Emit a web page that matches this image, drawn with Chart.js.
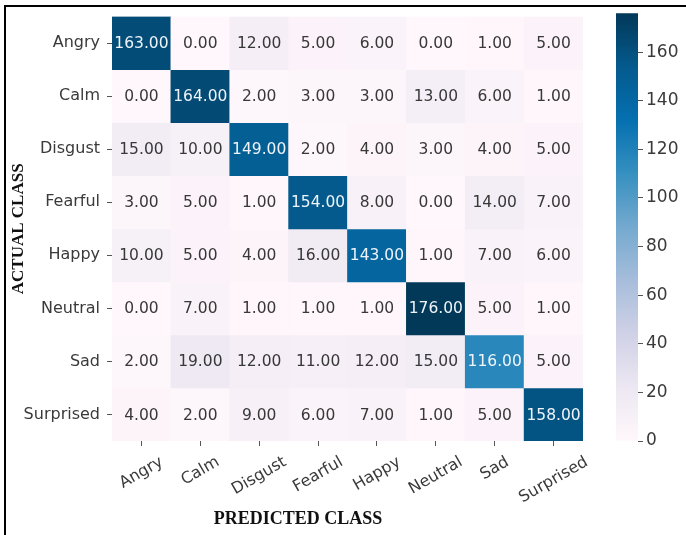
<!DOCTYPE html>
<html>
<head>
<meta charset="utf-8">
<script src="https://cdn.jsdelivr.net/npm/chart.js@4/dist/chart.umd.min.js"></script>
<style>
  html, body { margin: 0; padding: 0; background: #ffffff; }
  #wrap { position: relative; width: 686px; height: 535px; overflow: hidden; background: #ffffff; }
  #frame { position: absolute; left: 4px; top: 5px; right: -10px; bottom: -10px;
           border-top: 2px solid #000; border-left: 2px solid #000; pointer-events: none; }
  #heat { position: absolute; left: 0; top: 0; }
  #cbar { position: absolute; left: 600px; top: 0; }
</style>
</head>
<body>
<div id="wrap">
  <canvas id="heat" width="686" height="535"></canvas>
  <canvas id="cbar" width="86" height="535"></canvas>
  <div id="frame"></div>
</div>
<script>
// Emotion classes (rows = actual, columns = predicted)
const classes = ['Angry', 'Calm', 'Disgust', 'Fearful', 'Happy', 'Neutral', 'Sad', 'Surprised'];

// Confusion-matrix rows, one per actual class
const angryRow     = [163,   0,  12,   5,   6,   0,   1,   5];
const calmRow      = [  0, 164,   2,   3,   3,  13,   6,   1];
const disgustRow   = [ 15,  10, 149,   2,   4,   3,   4,   5];
const fearfulRow   = [  3,   5,   1, 154,   8,   0,  14,   7];
const happyRow     = [ 10,   5,   4,  16, 143,   1,   7,   6];
const neutralRow   = [  0,   7,   1,   1,   1, 176,   5,   1];
const sadRow       = [  2,  19,  12,  11,  12,  15, 116,   5];
const surprisedRow = [  4,   2,   9,   6,   7,   1,   5, 158];

// Colour-bar tick values
const colorbarTicks = [0, 20, 40, 60, 80, 100, 120, 140, 160];

const rows = [angryRow, calmRow, disgustRow, fearfulRow, happyRow, neutralRow, sadRow, surprisedRow];
const vmin = 0;
const vmax = Math.max(...rows.flat());

// PuBu colour map stops
const pubu = [
  [255, 247, 251], [236, 231, 242], [208, 209, 230], [166, 189, 219],
  [116, 169, 207], [54, 144, 192], [5, 112, 176], [4, 90, 141], [2, 56, 88]
];
function cmapRGB(v) {
  const t = Math.min(1, Math.max(0, (v - vmin) / (vmax - vmin)));
  const s = t * (pubu.length - 1);
  const i = Math.min(pubu.length - 2, Math.floor(s));
  const f = s - i;
  return pubu[i].map((c, k) => c + (pubu[i + 1][k] - c) * f);
}
function cmap(v) {
  const [r, g, b] = cmapRGB(v).map(Math.round);
  return `rgb(${r},${g},${b})`;
}
function luminance(v) {
  const lin = cmapRGB(v).map(c => {
    c /= 255;
    return c <= 0.03928 ? c / 12.92 : Math.pow((c + 0.055) / 1.055, 2.4);
  });
  return 0.2126 * lin[0] + 0.7152 * lin[1] + 0.0722 * lin[2];
}

const tickFont = { family: '"DejaVu Sans", sans-serif', size: 16 };
const tickColor = '#3a3a3a';
const serif = '"Liberation Serif", "Times New Roman", serif';

// Each actual-class row is one dataset of floating bars spanning [row, row + 1]
const datasets = rows.map((row, i) => ({
  label: classes[i],
  data: row.map(() => [i, i + 1]),
  backgroundColor: row.map(v => cmap(v)),
  borderWidth: 0,
  barPercentage: 1,
  categoryPercentage: 1,
  grouped: false
}));

// Writes the count inside each cell
const cellValues = {
  id: 'cellValues',
  afterDatasetsDraw(chart) {
    const ctx = chart.ctx;
    ctx.save();
    ctx.font = `15.5px ${tickFont.family}`;
    ctx.textAlign = 'center';
    ctx.textBaseline = 'middle';
    rows.forEach((row, i) => {
      const meta = chart.getDatasetMeta(i);
      meta.data.forEach((bar, j) => {
        const v = row[j];
        ctx.fillStyle = luminance(v) < 0.408 ? '#eef4fa' : '#383838';
        ctx.fillText(v.toFixed(2), bar.x, (bar.y + bar.base) / 2 + 1);
      });
    });
    ctx.restore();
  }
};

// Rotated predicted-class labels and the x title
const xLabels = {
  id: 'xLabels',
  afterDraw(chart) {
    const ctx = chart.ctx;
    const xs = chart.scales.x;
    const ang = 30 * Math.PI / 180;
    const lineH = tickFont.size * 1.15;
    ctx.save();
    ctx.font = `${tickFont.size}px ${tickFont.family}`;
    ctx.fillStyle = tickColor;
    ctx.textAlign = 'center';
    ctx.textBaseline = 'middle';
    classes.forEach((name, i) => {
      const x = xs.getPixelForTick(i);
      const w = ctx.measureText(name).width;
      const boxH = w * Math.sin(ang) + lineH * Math.cos(ang);
      const top = xs.top + 12;
      ctx.save();
      ctx.translate(x, top + boxH / 2);
      ctx.rotate(-ang);
      ctx.fillText(name, 0, 0);
      ctx.restore();
    });
    ctx.font = `bold 18px ${serif}`;
    ctx.fillStyle = '#111111';
    ctx.fillText('PREDICTED CLASS', 298, 519);
    ctx.restore();
  }
};

new Chart(document.getElementById('heat'), {
  type: 'bar',
  data: { labels: classes, datasets },
  options: {
    responsive: false,
    animation: false,
    devicePixelRatio: 1,
    layout: { padding: { left: 0, top: 8, right: 103, bottom: 0 } },
    plugins: { legend: { display: false }, tooltip: { enabled: false } },
    scales: {
      x: {
        type: 'category',
        offset: true,
        grid: { display: true, drawOnChartArea: false, drawTicks: true, tickLength: 5, offset: false, color: '#555555', lineWidth: 1 },
        border: { display: false },
        ticks: { display: false },
        afterFit(scale) { scale.height = 94; }
      },
      y: {
        type: 'linear',
        min: 0,
        max: rows.length,
        reverse: true,
        afterBuildTicks(scale) { scale.ticks = classes.map((_, i) => ({ value: i + 0.5 })); },
        ticks: {
          callback: (v, idx) => classes[idx],
          font: tickFont,
          color: tickColor,
          padding: 7,
          autoSkip: false
        },
        grid: { display: true, drawOnChartArea: false, drawTicks: true, tickLength: 5, color: '#555555', lineWidth: 1 },
        border: { display: false },
        title: {
          display: true,
          text: 'ACTUAL CLASS',
          font: { family: serif, size: 17, weight: 'bold' },
          color: '#111111',
          padding: { top: 8, bottom: 0 }
        },
        afterFit(scale) { scale.width = 112; }
      }
    }
  },
  plugins: [cellValues, xLabels]
});

// Colour bar: one floating bar spanning the value range, filled with the colour map
function barGradient(context) {
  const chart = context.chart;
  const area = chart.chartArea;
  if (!area) return cmap(vmax);
  const ys = chart.scales.y;
  const g = chart.ctx.createLinearGradient(0, ys.getPixelForValue(vmin), 0, ys.getPixelForValue(vmax));
  pubu.forEach((c, k) => g.addColorStop(k / (pubu.length - 1), `rgb(${c[0]},${c[1]},${c[2]})`));
  return g;
}

new Chart(document.getElementById('cbar'), {
  type: 'bar',
  data: {
    labels: [''],
    datasets: [{
      data: [[vmin, vmax]],
      backgroundColor: barGradient,
      borderWidth: 0,
      barPercentage: 1,
      categoryPercentage: 1
    }]
  },
  options: {
    responsive: false,
    animation: false,
    devicePixelRatio: 1,
    layout: { padding: { left: 16, top: 8, right: 0, bottom: 94 } },
    plugins: { legend: { display: false }, tooltip: { enabled: false } },
    scales: {
      x: { display: false },
      y: {
        position: 'right',
        min: vmin,
        max: vmax,
        afterBuildTicks(scale) { scale.ticks = colorbarTicks.map(v => ({ value: v })); },
        ticks: { font: { family: tickFont.family, size: 17 }, color: tickColor, padding: 3 },
        grid: { display: true, drawOnChartArea: false, drawTicks: true, tickLength: 5, color: '#555555' },
        border: { display: false },
        afterFit(scale) { scale.width = 48; }
      }
    }
  }
});
</script>
</body>
</html>
